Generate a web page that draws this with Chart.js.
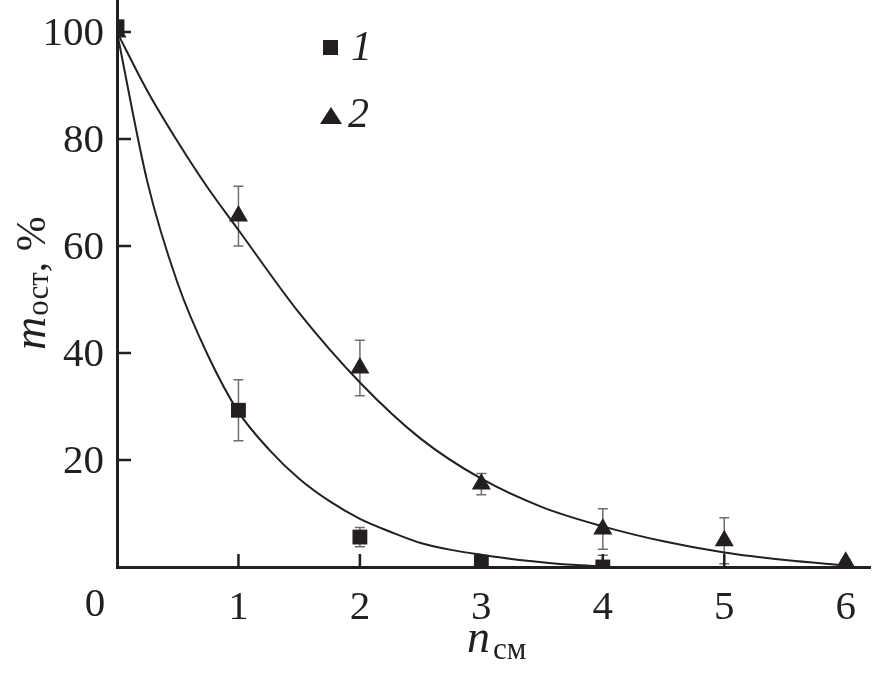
<!DOCTYPE html>
<html>
<head>
<meta charset="utf-8">
<script src="https://cdn.jsdelivr.net/npm/chart.js@4/dist/chart.umd.min.js"></script>
<style>
  html, body { margin: 0; padding: 0; background: #ffffff; }
  #wrap { width: 872px; height: 673px; }
</style>
</head>
<body>
<div id="wrap"><canvas id="c" width="872" height="673"></canvas></div>
<script>
// ---- data ----
const nValues = [0, 1, 2, 3, 4, 5, 6];
const series1 = [101, 29.3, 5.6, 0.9, 0, null, null];     // squares (1)
const series1Err = [0, 5.7, 1.8, 0, 2.2, null, null];
const series2 = [100, 65.6, 37.2, 15.5, 7.1, 4.9, 0.9];     // triangles (2)
const series2Err = [0, 5.6, 5.2, 2.0, 3.8, 4.3, 0.5];

const fitX1 = [0, 0.25, 0.5, 0.75, 1, 1.25, 1.5, 1.75, 2, 2.25, 2.5, 2.75, 3, 3.25, 3.5, 3.75, 4];
const fitY1 = [100, 72, 53, 39.5, 29, 22, 16.5, 12.3, 9, 6.6, 4.5, 3.2, 2.3, 1.5, 0.9, 0.4, 0.1];
const fitX2 = [0, 0.25, 0.5, 0.75, 1, 1.5, 2, 2.5, 3, 3.5, 4, 4.5, 5, 5.5, 6];
const fitY2 = [100, 89, 79.5, 70.8, 63, 47.5, 34.5, 24, 16.5, 11.2, 7.6, 4.8, 2.7, 1.3, 0.3];

const xTicks = [1, 2, 3, 4, 5, 6];
const xTickLabels = ['1', '2', '3', '4', '5', '6'];
const yTicks = [20, 40, 60, 80, 100];
const yTickLabels = ['20', '40', '60', '80', '100'];
const originLabel = '0';
const legendLabels = ['1', '2'];

const INK = '#231f20';
const SERIF = '"Liberation Serif", "DejaVu Serif", serif';

function pts(xs, ys) {
  const out = [];
  for (let i = 0; i < xs.length; i++) if (ys[i] !== null) out.push({ x: xs[i], y: ys[i] });
  return out;
}

// inward tick marks, tick labels, error bars, legend and axis titles
const decor = {
  id: 'decor',
  beforeDatasetsDraw(chart) {
    const ctx = chart.ctx, xs = chart.scales.x, ys = chart.scales.y;
    ctx.save();
    ctx.strokeStyle = '#6d6e71';
    ctx.lineWidth = 1.5;
    const bars = [[series1, series1Err], [series2, series2Err]];
    bars.forEach(([vals, errs]) => {
      vals.forEach((v, i) => {
        const e = errs[i];
        if (v === null || !e) return;
        const px = xs.getPixelForValue(nValues[i]);
        const top = ys.getPixelForValue(v + e);
        const bot = ys.getPixelForValue(Math.max(v - e, 0));
        ctx.beginPath();
        ctx.moveTo(px, top); ctx.lineTo(px, bot);
        ctx.moveTo(px - 5, top); ctx.lineTo(px + 5, top);
        if (v - e > 0) { ctx.moveTo(px - 5, bot); ctx.lineTo(px + 5, bot); }
        ctx.stroke();
      });
    });
    ctx.restore();
  },
  afterDraw(chart) {
    const ctx = chart.ctx, xs = chart.scales.x, ys = chart.scales.y;
    const a = chart.chartArea;
    ctx.save();
    // inward ticks
    ctx.strokeStyle = INK;
    ctx.lineWidth = 2.5;
    ctx.beginPath();
    xTicks.forEach(t => {
      const px = xs.getPixelForValue(t);
      ctx.moveTo(px, a.bottom); ctx.lineTo(px, a.bottom - 13);
    });
    yTicks.forEach(t => {
      const py = ys.getPixelForValue(t);
      ctx.moveTo(a.left, py); ctx.lineTo(a.left + 14, py);
    });
    ctx.stroke();

    // tick labels
    ctx.fillStyle = INK;
    ctx.font = '41px ' + SERIF;
    ctx.textBaseline = 'alphabetic';
    ctx.textAlign = 'center';
    xTicks.forEach((t, i) => {
      ctx.fillText(xTickLabels[i], xs.getPixelForValue(t), 619);
    });
    ctx.fillText(originLabel, 95, 616);
    ctx.textAlign = 'right';
    yTicks.forEach((t, i) => {
      ctx.fillText(yTickLabels[i], 104, ys.getPixelForValue(t) + 13);
    });

    // legend
    ctx.beginPath(); ctx.rect(323, 40, 15, 15); ctx.fill();
    ctx.beginPath();
    ctx.moveTo(331, 107); ctx.lineTo(342, 124); ctx.lineTo(320, 124); ctx.closePath(); ctx.fill();
    ctx.font = 'italic 42px ' + SERIF;
    ctx.textAlign = 'left';
    ctx.fillText(legendLabels[0], 351, 60);
    ctx.fillText(legendLabels[1], 348, 127);

    // x axis title: n_см
    ctx.font = 'italic 46px ' + SERIF;
    ctx.fillText('n', 467, 652);
    ctx.font = '31px ' + SERIF;
    ctx.fillText('см', 493, 659);

    // y axis title: m_ост, %
    ctx.translate(45, 350);
    ctx.rotate(-Math.PI / 2);
    ctx.font = 'italic 46px ' + SERIF;
    ctx.fillText('m', 0, 0);
    let w = ctx.measureText('m').width;
    ctx.font = '31px ' + SERIF;
    ctx.fillText('ост', w + 1, 3);
    w += 1 + ctx.measureText('ост').width;
    ctx.font = '42px ' + SERIF;
    ctx.fillText(', %', w, 0);
    ctx.restore();
  }
};

const chart = new Chart(document.getElementById('c'), {
  type: 'scatter',
  data: {
    datasets: [
      {
        label: 'fit1', data: pts(fitX1, fitY1), showLine: true, pointRadius: 0,
        borderColor: INK, borderWidth: 2, cubicInterpolationMode: 'monotone', fill: false
      },
      {
        label: 'fit2', data: pts(fitX2, fitY2), showLine: true, pointRadius: 0,
        borderColor: INK, borderWidth: 2, cubicInterpolationMode: 'monotone', fill: false
      },
      {
        label: '1', data: pts(nValues, series1), showLine: false, pointStyle: 'rect',
        pointRadius: 10.5, backgroundColor: INK, borderColor: INK, borderWidth: 0,
        clip: { left: 0, top: false, right: false, bottom: 0 }
      },
      {
        label: '2', data: pts(nValues, series2), showLine: false, pointStyle: 'triangle',
        pointRadius: 11, backgroundColor: INK, borderColor: INK, borderWidth: 0,
        clip: { left: 0, top: false, right: false, bottom: 0 }
      }
    ]
  },
  options: {
    responsive: false,
    animation: false,
    events: [],
    layout: { autoPadding: false, padding: { left: 0, right: 2, top: 0, bottom: 0 } },
    plugins: { legend: { display: false }, tooltip: { enabled: false } },
    scales: {
      x: {
        type: 'linear', min: 0, max: 6.2,
        grid: { display: false, drawTicks: false },
        border: { display: true, color: INK, width: 3 },
        ticks: { display: false, stepSize: 1 },
        afterFit: s => { s.height = 106; }
      },
      y: {
        type: 'linear', min: 0, max: 106,
        grid: { display: false, drawTicks: false },
        border: { display: true, color: INK, width: 3 },
        ticks: { display: false, stepSize: 20 },
        afterFit: s => { s.width = 117; }
      }
    }
  },
  plugins: [decor]
});
</script>
</body>
</html>
